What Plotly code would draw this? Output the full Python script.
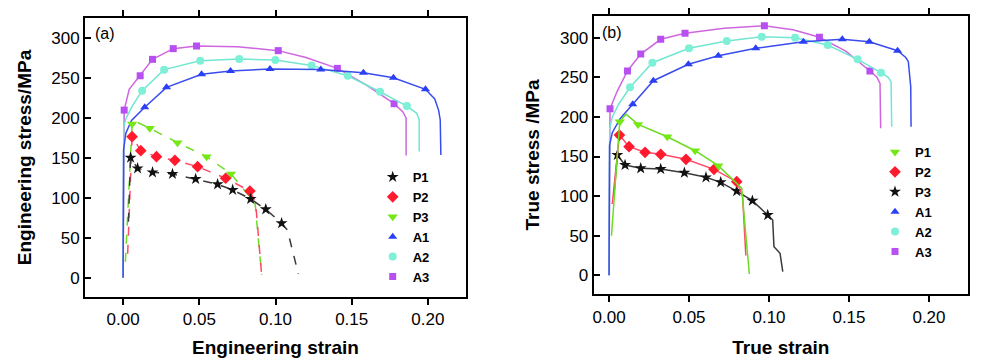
import plotly.graph_objects as go

# ---------------- Panel (a): engineering stress-strain ----------------
a_A3_x = [0, 0.0003, 0.0007, 0.004, 0.0112, 0.0193, 0.0329, 0.0482, 0.075, 0.1018, 0.12, 0.1406, 0.16, 0.1778, 0.1835, 0.1857, 0.1857]
a_A3_y = [0, 120, 210, 236, 253, 273.6, 287, 290.3, 289.5, 284.5, 276, 262.3, 241, 218, 208, 200, 153]
a_A3_mx = [0.0007, 0.0112, 0.0193, 0.0329, 0.0482, 0.1018, 0.1406, 0.1778]
a_A3_my = [210, 253, 273.6, 287, 290.3, 284.5, 262.3, 218]

a_A2_x = [0, 0.0005, 0.002, 0.006, 0.0125, 0.0269, 0.0506, 0.0762, 0.0999, 0.1237, 0.1474, 0.1686, 0.1862, 0.1927, 0.1943, 0.1943]
a_A2_y = [0, 190, 200, 215, 234.3, 260.7, 271.9, 274, 272.8, 266, 253, 233, 215, 206, 197.6, 158]
a_A2_mx = [0.0125, 0.0269, 0.0506, 0.0762, 0.0999, 0.1237, 0.1474, 0.1686, 0.1862]
a_A2_my = [234.3, 260.7, 271.9, 274, 272.8, 266, 253, 233, 215]

a_A1_x = [0, 0.0003, 0.0018, 0.0055, 0.0142, 0.0285, 0.0515, 0.0705, 0.0964, 0.1297, 0.1577, 0.1774, 0.1984, 0.2045, 0.207, 0.2081, 0.2085]
a_A1_y = [0, 160, 181, 197, 213.5, 238.5, 254.8, 259, 261.5, 261, 256.9, 250.6, 236, 224, 210, 197.6, 153.7]
a_A1_mx = [0.0142, 0.0285, 0.0515, 0.0705, 0.0964, 0.1297, 0.1577, 0.1774, 0.1984]
a_A1_my = [213.5, 238.5, 254.8, 259, 261.5, 261, 256.9, 250.6, 236]

a_P1_x = [0.0035, 0.0049, 0.0095, 0.0193, 0.0324, 0.0476, 0.062, 0.0719, 0.0837, 0.0936, 0.104, 0.1078, 0.115]
a_P1_y = [70, 150.4, 137, 132, 130, 123.7, 117, 110, 98.6, 85.7, 68.2, 59.7, 4.6]
a_P1_mx = [0.0049, 0.0095, 0.0193, 0.0324, 0.0476, 0.062, 0.0719, 0.0837, 0.0936, 0.104]
a_P1_my = [150.4, 137, 132, 130, 123.7, 117, 110, 98.6, 85.7, 68.2]

a_P2_x = [0.003, 0.0059, 0.0116, 0.0219, 0.034, 0.0489, 0.0673, 0.0832, 0.087, 0.0909]
a_P2_y = [30, 176.7, 159.1, 151.6, 147.1, 139.1, 124.6, 108.6, 93.2, 3.4]
a_P2_mx = [0.0059, 0.0116, 0.0219, 0.034, 0.0489, 0.0673, 0.0832]
a_P2_my = [176.7, 159.1, 151.6, 147.1, 139.1, 124.6, 108.6]

a_P3_x = [0.0015, 0.0059, 0.009, 0.0175, 0.0357, 0.0548, 0.0708, 0.0866, 0.0909]
a_P3_y = [20, 192.6, 195, 187.2, 169.2, 151.6, 130, 93.2, 3.4]
a_P3_mx = [0.0059, 0.0175, 0.0357, 0.0548, 0.0708]
a_P3_my = [192.6, 187.2, 169.2, 151.6, 130]

# ---------------- Panel (b): true stress-strain ----------------
b_A3_x = [0, 0.0003, 0.0006, 0.005, 0.0115, 0.0198, 0.0323, 0.0475, 0.072, 0.0971, 0.115, 0.1315, 0.148, 0.1631, 0.1675, 0.1694, 0.1698]
b_A3_y = [0, 150, 210.4, 232, 258, 279.4, 298, 305.6, 312, 315.2, 310, 300.5, 283, 258, 250, 242.4, 185.6]
b_A3_mx = [0.0006, 0.0115, 0.0198, 0.0323, 0.0475, 0.0971, 0.1315, 0.1631]
b_A3_my = [210.4, 258, 279.4, 298, 305.6, 315.2, 300.5, 258]

b_A2_x = [0, 0.0004, 0.002, 0.006, 0.0131, 0.0271, 0.05, 0.0736, 0.0954, 0.1163, 0.1367, 0.1554, 0.17, 0.1745, 0.1763, 0.1767]
b_A2_y = [0, 185, 200, 216, 237.4, 268.4, 286.6, 295.8, 301.3, 300, 290.8, 272.7, 255.8, 250, 244.5, 187.6]
b_A2_mx = [0.0131, 0.0271, 0.05, 0.0736, 0.0954, 0.1163, 0.1367, 0.1554, 0.17]
b_A2_my = [237.4, 268.4, 286.6, 295.8, 301.3, 300, 290.8, 272.7, 255.8]

b_A1_x = [0, 0.0003, 0.002, 0.007, 0.0148, 0.0277, 0.0496, 0.0683, 0.0917, 0.1215, 0.1458, 0.1627, 0.1804, 0.1855, 0.1871, 0.1886, 0.1888]
b_A1_y = [0, 164, 180, 198, 215.9, 245.7, 266.4, 277.3, 286.6, 295, 298, 295, 283.6, 275, 269.7, 238, 187.6]
b_A1_mx = [0.0148, 0.0277, 0.0496, 0.0683, 0.0917, 0.1215, 0.1458, 0.1627, 0.1804]
b_A1_my = [215.9, 245.7, 266.4, 277.3, 286.6, 295, 298, 295, 283.6]

b_P1_x = [0.0015, 0.0067, 0.0106, 0.0181, 0.0364, 0.0538, 0.0683, 0.0829, 0.0877]
b_P1_y = [50, 194, 203.5, 190.5, 175, 157.3, 138.4, 110, 1.6]
b_P1_mx = [0.0067, 0.0181, 0.0364, 0.0538, 0.0683]
b_P1_my = [194, 190.5, 175, 157.3, 138.4]

b_P2_x = [0.002, 0.0065, 0.0125, 0.0225, 0.0323, 0.0481, 0.0656, 0.0798, 0.0835, 0.0855]
b_P2_y = [90, 177.1, 162.4, 155.3, 152.8, 146.5, 133.8, 118.2, 100, 25]
b_P2_mx = [0.0065, 0.0125, 0.0225, 0.0323, 0.0481, 0.0656, 0.0798]
b_P2_my = [177.1, 162.4, 155.3, 152.8, 146.5, 133.8, 118.2]

b_P3_x = [0.003, 0.0052, 0.01, 0.0198, 0.0323, 0.0471, 0.0606, 0.0698, 0.0798, 0.0896, 0.0992, 0.1023, 0.1031, 0.1069, 0.1086]
b_P3_y = [100, 151.9, 139.3, 135.1, 134.2, 129.5, 123.7, 117.4, 106.4, 94.2, 76.1, 69.8, 36.1, 27.8, 4.5]
b_P3_mx = [0.0052, 0.01, 0.0198, 0.0323, 0.0471, 0.0606, 0.0698, 0.0798, 0.0896, 0.0992]
b_P3_my = [151.9, 139.3, 135.1, 134.2, 129.5, 123.7, 117.4, 106.4, 94.2, 76.1]

x_ticks = [0.0, 0.05, 0.10, 0.15, 0.20]
x_tick_labels = ["0.00", "0.05", "0.10", "0.15", "0.20"]
y_ticks = [0, 50, 100, 150, 200, 250, 300]
y_tick_labels = ["0", "50", "100", "150", "200", "250", "300"]

C_BLACK, C_RED, C_GREEN = "#111111", "#ff1a2e", "#74e814"
C_BLUE, C_CYAN, C_PURPLE = "#2b3ff5", "#7ff0d8", "#b84ff0"
L_BLACK, L_RED, L_GREEN = "#3a3a3a", "#ff4a66", "#6cdc22"
L_BLUE, L_CYAN, L_PURPLE = "#3a4cec", "#72e6d2", "#cf66e0"
K = "#000000"

FONT = "Liberation Sans, Arial, Helvetica, sans-serif"
W, H, OFF = 990, 350, 8  # page body has an 8px margin


def px(sx):
    return (sx - OFF) / W


def py(sy):
    return 1 - (sy - OFF) / H


fig = go.Figure()


def add_series(xl, yl, mx, my, name, lcolor, mcolor, symbol, msize, dash, xa, ya, legend):
    fig.add_trace(go.Scatter(x=xl, y=yl, mode="lines", line=dict(color=lcolor, width=1.5, dash=dash),
                             xaxis=xa, yaxis=ya, showlegend=False, hoverinfo="skip"))
    fig.add_trace(go.Scatter(x=mx, y=my, mode="markers", name=name,
                             marker=dict(color=mcolor, symbol=symbol, size=msize, line=dict(width=0)),
                             xaxis=xa, yaxis=ya, legend=legend))


add_series(a_A3_x, a_A3_y, a_A3_mx, a_A3_my, "A3", L_PURPLE, C_PURPLE, "square", 7, "solid", "x", "y", "legend")
add_series(a_A2_x, a_A2_y, a_A2_mx, a_A2_my, "A2", L_CYAN, C_CYAN, "circle", 8, "solid", "x", "y", "legend")
add_series(a_A1_x, a_A1_y, a_A1_mx, a_A1_my, "A1", L_BLUE, C_BLUE, "triangle-up", 8, "solid", "x", "y", "legend")
add_series(a_P3_x, a_P3_y, a_P3_mx, a_P3_my, "P3", L_GREEN, C_GREEN, "triangle-down", 9, "dash", "x", "y", "legend")
add_series(a_P2_x, a_P2_y, a_P2_mx, a_P2_my, "P2", L_RED, C_RED, "diamond", 9, "dash", "x", "y", "legend")
add_series(a_P1_x, a_P1_y, a_P1_mx, a_P1_my, "P1", L_BLACK, C_BLACK, "star", 9, "dash", "x", "y", "legend")

add_series(b_A3_x, b_A3_y, b_A3_mx, b_A3_my, "A3", L_PURPLE, C_PURPLE, "square", 7, "solid", "x2", "y2", "legend2")
add_series(b_A2_x, b_A2_y, b_A2_mx, b_A2_my, "A2", L_CYAN, C_CYAN, "circle", 8, "solid", "x2", "y2", "legend2")
add_series(b_A1_x, b_A1_y, b_A1_mx, b_A1_my, "A1", L_BLUE, C_BLUE, "triangle-up", 8, "solid", "x2", "y2", "legend2")
add_series(b_P3_x, b_P3_y, b_P3_mx, b_P3_my, "P3", L_BLACK, C_BLACK, "star", 9, "solid", "x2", "y2", "legend2")
add_series(b_P2_x, b_P2_y, b_P2_mx, b_P2_my, "P2", L_RED, C_RED, "diamond", 9, "solid", "x2", "y2", "legend2")
add_series(b_P1_x, b_P1_y, b_P1_mx, b_P1_my, "P1", L_GREEN, C_GREEN, "triangle-down", 9, "solid", "x2", "y2", "legend2")

titlefont = dict(family=FONT, size=19, color="black", weight="bold")
tickfont = dict(family=FONT, size=17, color="black")


def x_axis(domain, rng, anchor, title):
    # same configuration that rendered its frame correctly in an earlier test
    return dict(domain=domain, range=rng, anchor=anchor,
                tickmode="array", tickvals=x_ticks, ticktext=x_tick_labels,
                showline=True, linecolor=K, linewidth=2, mirror="ticks",
                ticks="outside", ticklen=6, tickwidth=2, tickcolor=K,
                tickfont=tickfont, showgrid=False, zeroline=False,
                title=dict(text=title, font=titlefont))


def y_axis(domain, rng, anchor, title):
    return dict(domain=domain, range=rng, anchor=anchor,
                tickmode="array", tickvals=y_ticks, ticktext=y_tick_labels,
                showline=True, linecolor=K, linewidth=2, mirror=True,
                ticks="inside", ticklen=6, tickwidth=2, tickcolor=K,
                tickfont=tickfont, showgrid=True, gridcolor="#ffffff", zeroline=False,
                title=dict(text=title, font=titlefont))


fig.update_layout(
    width=W, height=H,
    margin=dict(l=0, r=0, t=0, b=0),
    paper_bgcolor="white", plot_bgcolor="white",
    xaxis=x_axis([px(85), px(466)], [-0.025, 0.225], "y", "Engineering strain"),
    yaxis=y_axis([py(297), py(18)], [-24.2, 325.4], "x", "Engineering stress/MPa"),
    xaxis2=x_axis([px(593.7), px(968)], [-0.0096, 0.2244], "y2", "True strain"),
    yaxis2=y_axis([py(294.3), py(15.7)], [-24, 327.8], "x2", "True stress /MPa"),
    legend=dict(x=364.7 / W, y=1 - 154 / H, font=dict(family=FONT, size=13, color="black", weight="bold"),
                bgcolor="rgba(0,0,0,0)", borderwidth=0, traceorder="reversed", xanchor="left", yanchor="top"),
    legend2=dict(x=867 / W, y=1 - 129 / H, font=dict(family=FONT, size=13, color="black", weight="bold"),
                 bgcolor="rgba(0,0,0,0)", borderwidth=0, traceorder="reversed", xanchor="left", yanchor="top"),
    annotations=[
        dict(text="(a)", x=-0.0199, y=306.6, xref="x", yref="y", xanchor="left", yanchor="middle",
             showarrow=False, font=dict(family=FONT, size=16, color="black")),
        dict(text="(b)", x=-0.0056, y=307, xref="x2", yref="y2", xanchor="left", yanchor="middle",
             showarrow=False, font=dict(family=FONT, size=16, color="black")),
    ],
)

fig.write_html("out.html")
